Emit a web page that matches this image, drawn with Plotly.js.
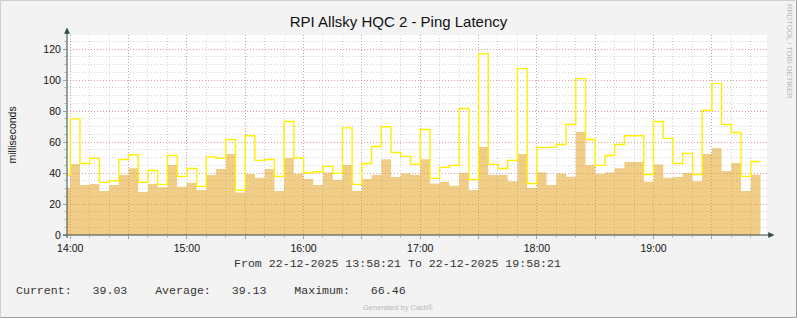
<!DOCTYPE html>
<html><head><meta charset="utf-8">
<script src="https://cdn.plot.ly/plotly-3.0.1.min.js"></script>
<style>html,body{margin:0;padding:0;background:#f3f3f3;}#chart{width:797px;height:318px;}</style>
</head><body><div id="chart"></div>
<script>
const chartTitle = "RPI Allsky HQC 2 - Ping Latency";
const yAxisTitle = "milliseconds";
const day = "2025-12-22";
const viewStart = "13:58:21";
const viewEnd = "19:58:21";
const slotStart = ["13:55",
 "14:00","14:05","14:10","14:15","14:20","14:25","14:30","14:35","14:40","14:45","14:50","14:55",
 "15:00","15:05","15:10","15:15","15:20","15:25","15:30","15:35","15:40","15:45","15:50","15:55",
 "16:00","16:05","16:10","16:15","16:20","16:25","16:30","16:35","16:40","16:45","16:50","16:55",
 "17:00","17:05","17:10","17:15","17:20","17:25","17:30","17:35","17:40","17:45","17:50","17:55",
 "18:00","18:05","18:10","18:15","18:20","18:25","18:30","18:35","18:40","18:45","18:50","18:55",
 "19:00","19:05","19:10","19:15","19:20","19:25","19:30","19:35","19:40","19:45","19:50"];
const slotEnd = "19:55";
const avgLatency = [30.5,
 45.8,32.3,33.0,28.4,32.3,38.7,43.2,27.7,33.0,30.8,45.2,31.2,
 33.8,29.0,38.7,42.6,52.3,27.5,39.4,37.0,42.6,28.4,49.7,39.6,
 36.1,32.3,40.4,35.5,45.2,28.4,36.1,38.7,49.0,37.4,39.8,38.7,
 49.0,33.3,34.2,31.8,40.0,29.0,56.8,38.7,38.7,34.8,52.3,30.3,
 40.4,32.3,39.8,37.6,66.5,45.2,39.4,40.4,43.2,47.1,47.1,34.4,
 45.6,37.0,37.4,40.0,34.8,52.3,56.1,41.3,46.5,28.4,39.0];
const maxLatency = [38.7,
 75.0,46.2,49.5,34.0,35.0,48.8,51.8,34.0,41.7,32.7,51.4,37.9,
 43.0,31.4,50.5,49.5,61.7,28.8,64.1,48.2,48.8,37.9,73.3,49.7,
 40.2,40.9,44.3,39.8,69.2,32.7,46.2,57.2,69.9,53.3,50.8,45.6,
 68.2,36.6,43.7,45.0,81.7,35.9,117.0,45.6,43.0,48.2,107.5,33.3,
 56.6,56.6,58.5,71.4,101.0,61.7,45.0,51.4,58.5,64.1,64.1,39.1,
 73.3,62.4,46.2,52.7,39.1,80.4,97.8,71.4,66.2,37.9,47.5];
const xTickTimes = ["14:00","14:30","15:00","15:30","16:00","16:30","17:00","17:30","18:00","18:30","19:00","19:30"];
const xTickText = ["14:00","","15:00","","16:00","","17:00","","18:00","","19:00",""];
const yTickVals = [0,20,40,60,80,100,120];
const yTickText = ["0","20","40","60","80","100","120"];
const rangeText = "From 22-12-2025 13:58:21 To 22-12-2025 19:58:21";
const statsText = "Current:   39.03    Average:   39.13    Maximum:   66.46";
const footerText = "Generated by Cacti®";
const sideText = "RRDTOOL / TOBI OETIKER";

const W = 797, H = 318, L = 67, R = 30, T = 35, B = 83;
const PW = W - L - R, PH = H - T - B;
const X = px => (px - L) / PW;
const Y = py => (H - B - py) / PH;

const xs = slotStart.map(t => day + " " + t).concat([day + " " + slotEnd]);
const avgY = avgLatency.concat([avgLatency[avgLatency.length - 1]]);
const maxY = maxLatency.concat([maxLatency[maxLatency.length - 1]]);

const traces = [
  {type: "scatter", mode: "lines", x: xs, y: avgY, line: {shape: "hv", width: 0, color: "rgba(223,150,0,0.467)"},
   fill: "tozeroy", fillcolor: "rgba(223,150,0,0.467)", hoverinfo: "skip"},
  {type: "scatter", mode: "lines", x: xs, y: maxY, line: {shape: "hv", width: 1.4, color: "#fff000"}, hoverinfo: "skip"}
];

const axisColor = "#2f4a43";
const font = "Liberation Sans, Arial, sans-serif";
const mono = "Liberation Mono, Courier New, monospace";
const majorGrid = "rgba(222,80,80,0.42)";
const minorGrid = "rgba(140,140,140,0.38)";

const layout = {
  width: W, height: H,
  margin: {l: L, r: R, t: T, b: B, pad: 0},
  paper_bgcolor: "#f3f3f3", plot_bgcolor: "#ffffff",
  showlegend: false,
  title: {text: chartTitle, font: {family: font, size: 15, color: "#111"}, xref: "container", x: 0.5, xanchor: "center", yref: "container", y: 1 - 22 / H, yanchor: "middle"},
  xaxis: {
    type: "date", range: [day + " " + viewStart, day + " " + viewEnd], fixedrange: true,
    tickmode: "array", tickvals: xTickTimes.map(t => day + " " + t), ticktext: xTickText,
    showgrid: true, gridcolor: majorGrid, griddash: "1px,2px", gridwidth: 1,
    ticks: "outside", ticklen: 3, tickcolor: "#a0a0a0",
    tickfont: {family: font, size: 10.5, color: "#111"},
    minor: {dtick: 600000, tick0: day + " 14:00", showgrid: true, gridcolor: minorGrid, griddash: "1px,2px", gridwidth: 1, ticks: "outside", ticklen: 2, tickcolor: "#c0c0c0"},
    showline: false, zeroline: false
  },
  yaxis: {
    range: [0, 129.2], fixedrange: true,
    tickmode: "array", tickvals: yTickVals, ticktext: yTickText,
    showgrid: true, gridcolor: majorGrid, griddash: "1px,2px", gridwidth: 1,
    ticks: "outside", ticklen: 3, tickcolor: "#a0a0a0",
    tickfont: {family: font, size: 10.5, color: "#111"},
    minor: {dtick: 5, tick0: 0, showgrid: true, gridcolor: minorGrid, griddash: "1px,2px", gridwidth: 1, ticks: "outside", ticklen: 2, tickcolor: "#c0c0c0"},
    showline: false, zeroline: false
  },
  shapes: [
    {type: "line", xref: "paper", yref: "paper", x0: X(0.5), x1: X(796.5), y0: Y(0.5), y1: Y(0.5), line: {color: "#cfcfcf", width: 1}},
    {type: "line", xref: "paper", yref: "paper", x0: X(0.5), x1: X(0.5), y0: Y(0.5), y1: Y(317.5), line: {color: "#cfcfcf", width: 1}},
    {type: "line", xref: "paper", yref: "paper", x0: X(0.5), x1: X(796.5), y0: Y(317.5), y1: Y(317.5), line: {color: "#9e9e9e", width: 1}},
    {type: "line", xref: "paper", yref: "paper", x0: X(796.5), x1: X(796.5), y0: Y(0.5), y1: Y(317.5), line: {color: "#9e9e9e", width: 1}},
    {type: "line", xref: "paper", yref: "paper", x0: X(67), x1: X(67), y0: Y(238), y1: Y(32), line: {color: axisColor, width: 1}, layer: "above"},
    {type: "line", xref: "paper", yref: "paper", x0: X(63), x1: X(769), y0: Y(235), y1: Y(235), line: {color: axisColor, width: 1}, layer: "above"},
    {type: "path", xref: "paper", yref: "paper", path: `M${X(67)},${Y(28)} L${X(64.5)},${Y(33.5)} L${X(69.5)},${Y(33.5)} Z`, fillcolor: axisColor, line: {color: axisColor, width: 0.5}, layer: "above"},
    {type: "path", xref: "paper", yref: "paper", path: `M${X(774)},${Y(235)} L${X(768.5)},${Y(232.5)} L${X(768.5)},${Y(237.5)} Z`, fillcolor: axisColor, line: {color: axisColor, width: 0.5}, layer: "above"}
  ],
  annotations: [
    {text: yAxisTitle, xref: "paper", yref: "paper", x: X(11.5), y: Y(135), textangle: -90, showarrow: false, xanchor: "center", yanchor: "middle", font: {family: font, size: 10.5, color: "#111"}},
    {text: rangeText, xref: "paper", yref: "paper", x: X(397), y: Y(263), showarrow: false, xanchor: "center", yanchor: "middle", font: {family: mono, size: 11.6, color: "#333"}},
    {text: statsText.replace(/ /g, "\u00a0"), xref: "paper", yref: "paper", x: X(14), y: Y(290), showarrow: false, xanchor: "left", yanchor: "middle", font: {family: mono, size: 11.6, color: "#333"}},
    {text: footerText, xref: "paper", yref: "paper", x: X(398), y: Y(307.5), showarrow: false, xanchor: "center", yanchor: "middle", font: {family: font, size: 7.5, color: "#b8b8b8"}},
    {text: sideText, xref: "paper", yref: "paper", x: X(789), y: Y(51), textangle: 90, showarrow: false, xanchor: "center", yanchor: "middle", font: {family: font, size: 7.5, color: "#b8b8b8"}}
  ]
};

Plotly.newPlot("chart", traces, layout, {displayModeBar: false, staticPlot: true});
</script>
</body></html>
